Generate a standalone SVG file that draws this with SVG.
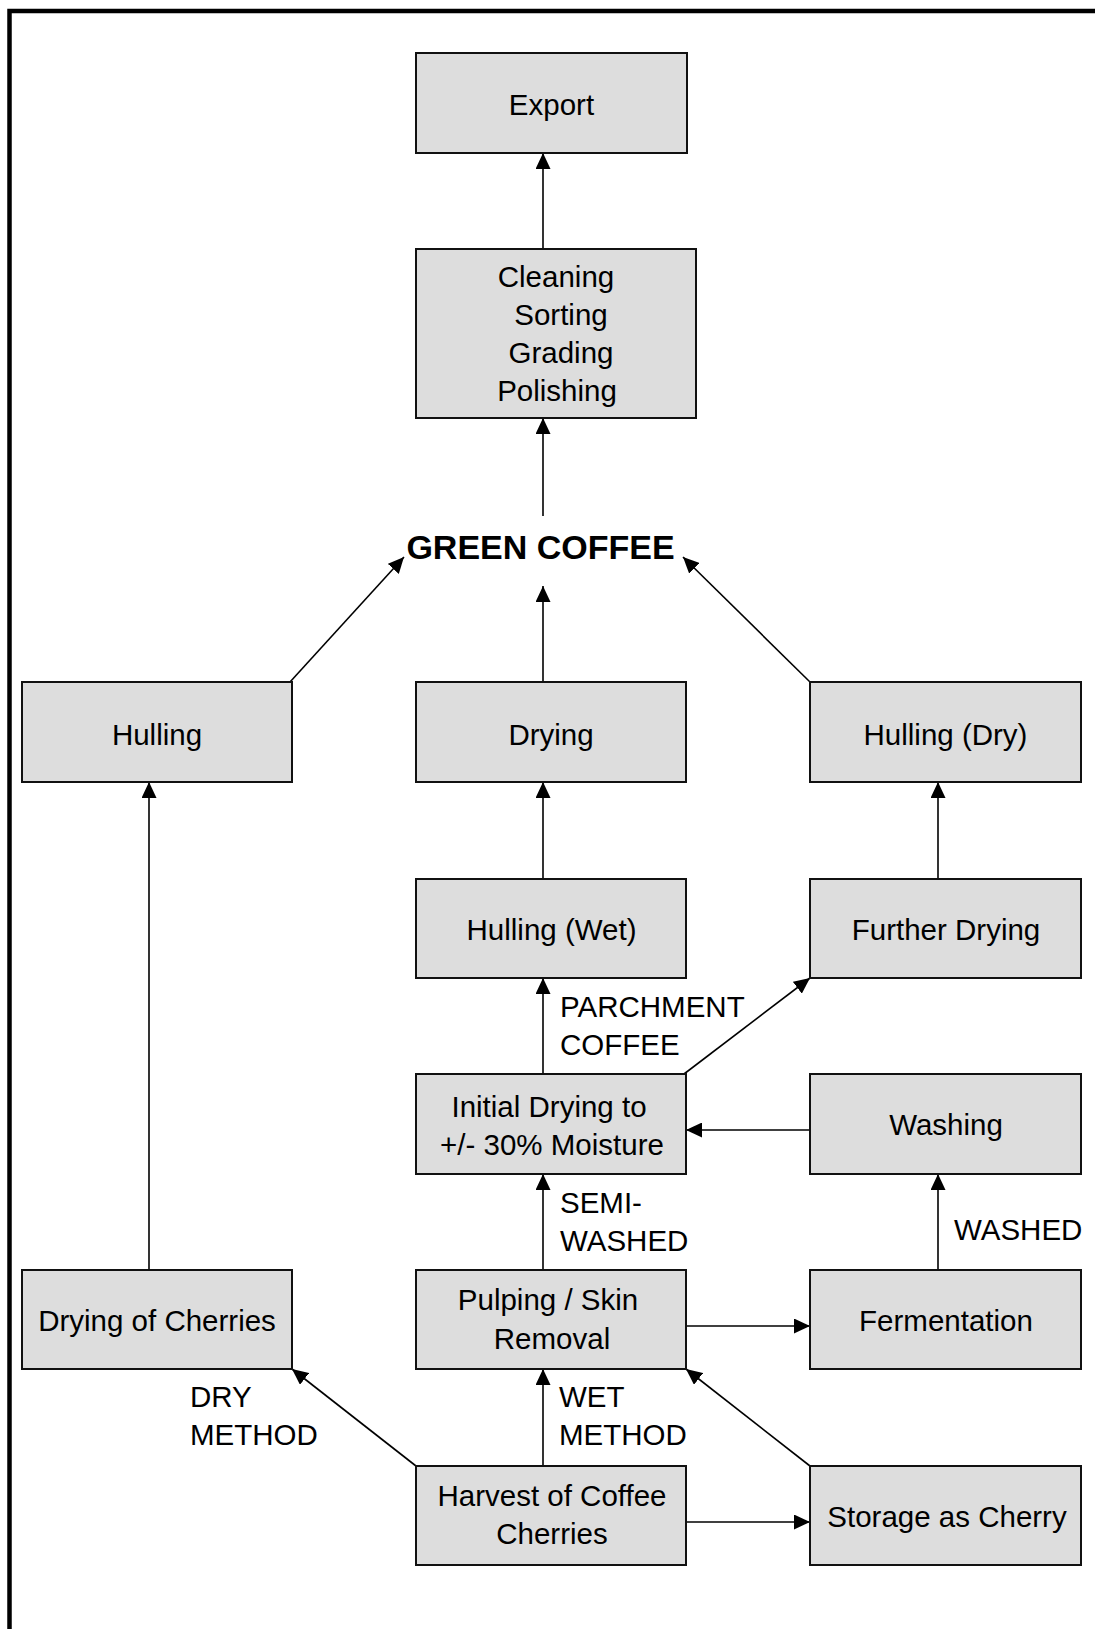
<svg xmlns="http://www.w3.org/2000/svg" width="1095" height="1629" viewBox="0 0 1095 1629">
<style>
.box{fill:#DDDDDD;stroke:#111;stroke-width:2}
.t{font-family:"Liberation Sans",Arial,sans-serif;font-size:29.5px;fill:#000;text-anchor:middle}
.l{font-family:"Liberation Sans",Arial,sans-serif;font-size:29.5px;fill:#000}
.gc{font-family:"Liberation Sans",Arial,sans-serif;font-size:34px;font-weight:bold;fill:#000;text-anchor:middle}
.c{stroke:#000;stroke-width:1.6;fill:none;marker-end:url(#ah)}
</style>
<defs>
<marker id="ah" markerUnits="userSpaceOnUse" markerWidth="16" markerHeight="15" refX="16" refY="7.5" orient="auto">
<path d="M0,0 L16,7.5 L0,15 z" fill="#000"/>
</marker>
</defs>
<rect x="0" y="0" width="1095" height="1629" fill="#fff"/>
<rect x="9.5" y="11" width="1200" height="1700" fill="none" stroke="#000" stroke-width="4.5"/>

<g id="connectors">
<line class="c" x1="543" y1="249" x2="543" y2="153"/>
<line class="c" x1="543" y1="516" x2="543" y2="418"/>
<line class="c" x1="543" y1="682" x2="543" y2="586"/>
<line class="c" x1="290" y1="682" x2="404" y2="557"/>
<line class="c" x1="810" y1="682" x2="683" y2="557"/>
<line class="c" x1="543" y1="879" x2="543" y2="782"/>
<line class="c" x1="938" y1="879" x2="938" y2="782"/>
<line class="c" x1="543" y1="1074" x2="543" y2="978"/>
<line class="c" x1="684" y1="1074" x2="810" y2="978"/>
<line class="c" x1="810" y1="1130" x2="686" y2="1130"/>
<line class="c" x1="543" y1="1270" x2="543" y2="1174"/>
<line class="c" x1="938" y1="1270" x2="938" y2="1174"/>
<line class="c" x1="684" y1="1326" x2="810" y2="1326"/>
<line class="c" x1="149" y1="1270" x2="149" y2="782"/>
<line class="c" x1="416" y1="1466" x2="292" y2="1369"/>
<line class="c" x1="543" y1="1466" x2="543" y2="1369"/>
<line class="c" x1="810" y1="1466" x2="686" y2="1369"/>
<line class="c" x1="686" y1="1522" x2="810" y2="1522"/>
<text class="l" x="560" y="1017">PARCHMENT</text>
<text class="l" x="560" y="1055">COFFEE</text>
<text class="l" x="560" y="1213">SEMI-</text>
<text class="l" x="560" y="1251">WASHED</text>
<text class="l" x="954" y="1240">WASHED</text>
<text class="l" x="190" y="1407">DRY</text>
<text class="l" x="190" y="1445">METHOD</text>
<text class="l" x="559" y="1407">WET</text>
<text class="l" x="559" y="1445">METHOD</text>
</g>

<g id="export"><rect class="box" x="416" y="53" width="271" height="100"/><text class="t" x="551.5" y="115">Export</text></g>
<g id="cleaning"><rect class="box" x="416" y="249" width="280" height="169"/>
<text class="t" x="556" y="287">Cleaning</text><text class="t" x="561" y="325">Sorting</text><text class="t" x="561" y="363">Grading</text><text class="t" x="557" y="401">Polishing</text></g>
<g id="green-coffee"><text class="gc" x="540.5" y="559">GREEN COFFEE</text></g>
<g id="hulling"><rect class="box" x="22" y="682" width="270" height="100"/><text class="t" x="157" y="745">Hulling</text></g>
<g id="drying"><rect class="box" x="416" y="682" width="270" height="100"/><text class="t" x="551" y="745">Drying</text></g>
<g id="hulling-dry"><rect class="box" x="810" y="682" width="271" height="100"/><text class="t" x="945.5" y="745">Hulling (Dry)</text></g>
<g id="hulling-wet"><rect class="box" x="416" y="879" width="270" height="99"/><text class="t" x="551.5" y="940">Hulling (Wet)</text></g>
<g id="further-drying"><rect class="box" x="810" y="879" width="271" height="99"/><text class="t" x="946" y="940">Further Drying</text></g>
<g id="initial-drying"><rect class="box" x="416" y="1074" width="270" height="100"/><text class="t" x="549" y="1117">Initial Drying to</text><text class="t" x="552" y="1155">+/- 30% Moisture</text></g>
<g id="washing"><rect class="box" x="810" y="1074" width="271" height="100"/><text class="t" x="946" y="1135">Washing</text></g>
<g id="drying-cherries"><rect class="box" x="22" y="1270" width="270" height="99"/><text class="t" x="157" y="1331">Drying of Cherries</text></g>
<g id="pulping"><rect class="box" x="416" y="1270" width="270" height="99"/><text class="t" x="548" y="1310">Pulping / Skin</text><text class="t" x="552" y="1349">Removal</text></g>
<g id="fermentation"><rect class="box" x="810" y="1270" width="271" height="99"/><text class="t" x="946" y="1331">Fermentation</text></g>
<g id="harvest"><rect class="box" x="416" y="1466" width="270" height="99"/><text class="t" x="552" y="1506">Harvest of Coffee</text><text class="t" x="552" y="1544">Cherries</text></g>
<g id="storage"><rect class="box" x="810" y="1466" width="271" height="99"/><text class="t" x="947" y="1527">Storage as Cherry</text></g>
</svg>
